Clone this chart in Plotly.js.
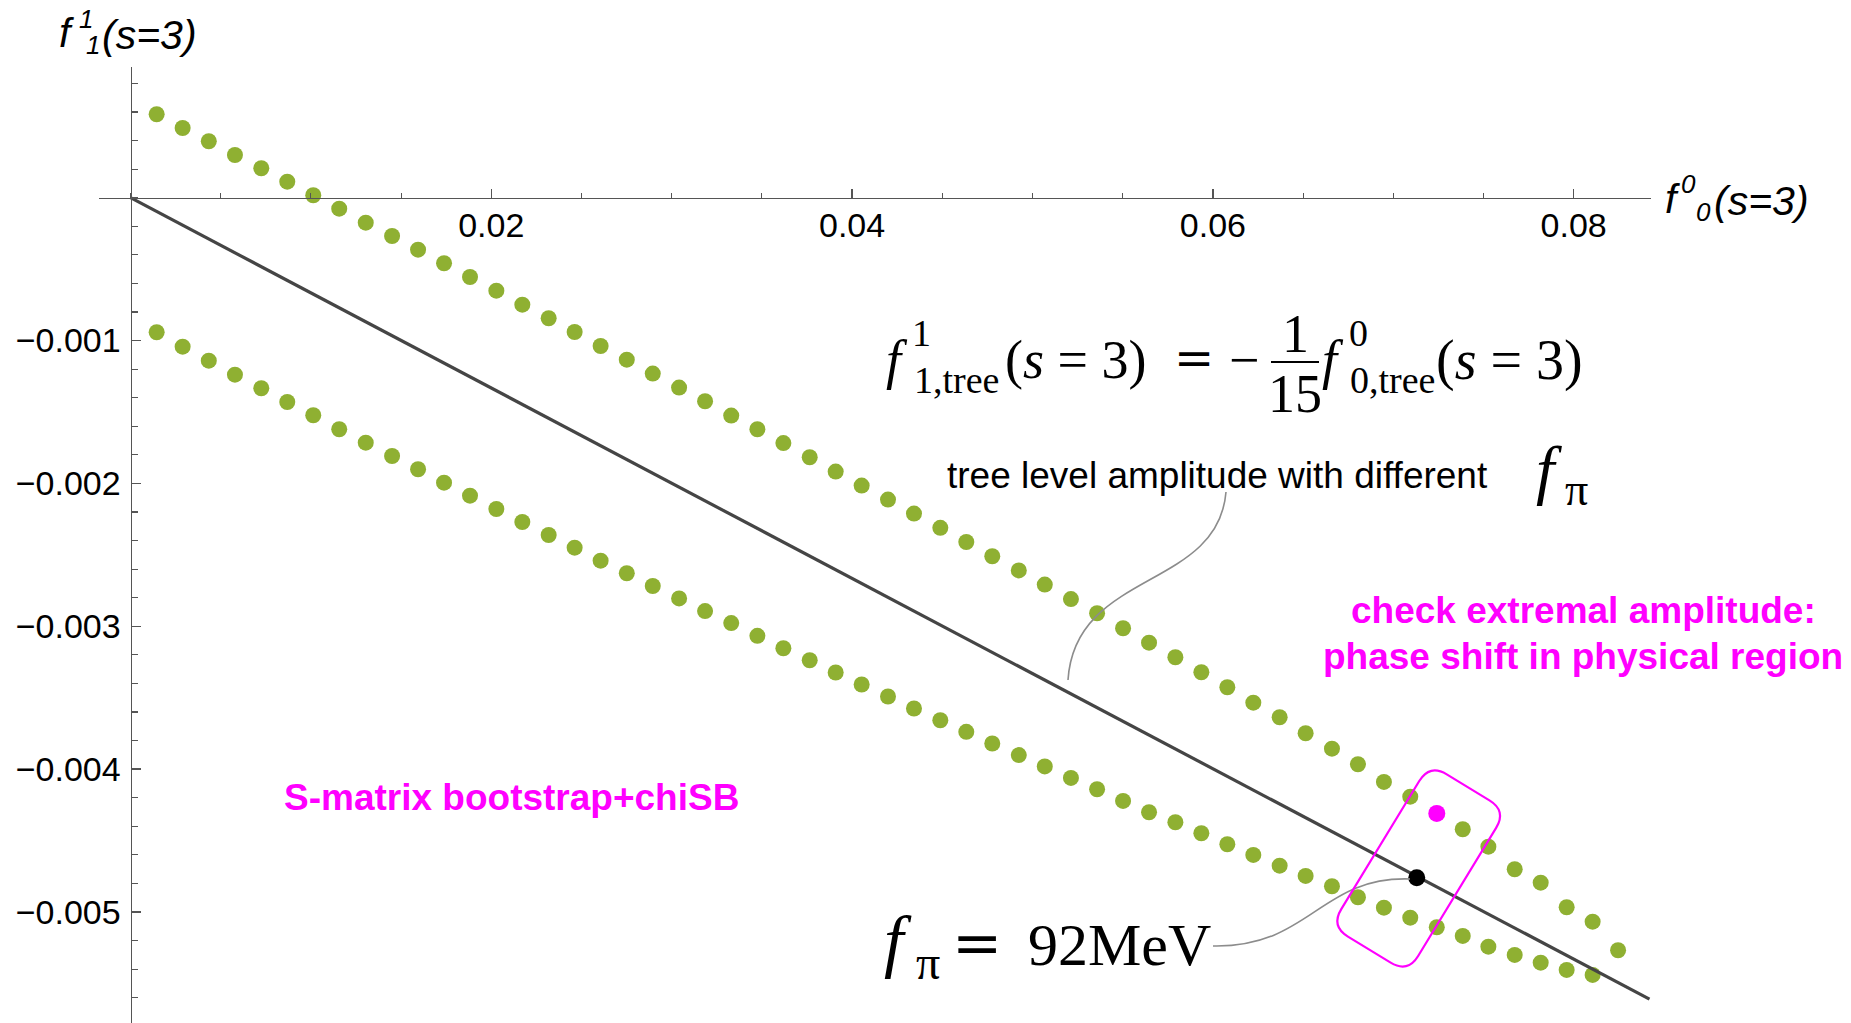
<!DOCTYPE html>
<html>
<head>
<meta charset="utf-8">
<script src="https://cdn.plot.ly/plotly-3.0.1.min.js"></script>
<style>html,body{margin:0;padding:0;background:#fff;}#chart{width:1851px;height:1023px;}</style>
</head>
<body>
<div id="chart"></div>
<script>
// ---------------- data ----------------
const f00Grid = [0.00145,0.00289,0.00434,0.00579,0.00725,0.00869,0.01013,0.01157,0.01304,0.01450,
  0.01594,0.01738,0.01882,0.02028,0.02172,0.02318,0.02462,0.02606,0.02751,0.02895,
  0.03041,0.03185,0.03330,0.03475,0.03619,0.03765,0.03909,0.04053,0.04199,0.04343,
  0.04489,0.04633,0.04777,0.04924,0.05068,0.05213,0.05358,0.05502,0.05646,0.05792,
  0.05936,0.06080,0.06224,0.06370,0.06514,0.06660,0.06804,0.06948,0.07094,0.07241,
  0.07385,0.07527,0.07673,0.07817,0.07961,0.08105,0.08246];

const upperF11 = [0.000584,0.000488,0.000395,0.000299,0.000206,0.000112,0.000017,-0.000077,-0.000175,-0.000268,
  -0.000364,-0.000459,-0.000555,-0.000651,-0.000749,-0.000844,-0.000940,-0.001038,-0.001134,-0.001231,
  -0.001329,-0.001425,-0.001525,-0.001621,-0.001718,-0.001817,-0.001917,-0.002015,-0.002113,-0.002211,
  -0.002311,-0.002410,-0.002510,-0.002609,-0.002708,-0.002810,-0.002909,-0.003014,-0.003115,-0.003217,
  -0.003322,-0.003427,-0.003535,-0.003637,-0.003749,-0.003857,-0.003966,-0.004090,-0.004193,null,
  -0.004421,-0.004543,-0.004701,-0.004795,-0.004967,-0.005068,-0.005268];

const lowerF11 = [-0.000942,-0.001043,-0.001141,-0.001239,-0.001334,-0.001430,-0.001523,-0.001621,-0.001715,-0.001808,
  -0.001901,-0.001995,-0.002086,-0.002179,-0.002270,-0.002361,-0.002450,-0.002541,-0.002629,-0.002718,
  -0.002805,-0.002894,-0.002978,-0.003067,-0.003154,-0.003238,-0.003324,-0.003408,-0.003492,-0.003576,
  -0.003658,-0.003739,-0.003821,-0.003902,-0.003981,-0.004062,-0.004141,-0.004223,-0.004302,-0.004372,
  -0.004449,-0.004526,-0.004601,-0.004676,-0.004748,-0.004820,-0.004897,-0.004970,-0.005040,-0.005107,
  -0.005168,-0.005243,-0.005301,-0.005355,-0.005406,-0.005441];

const treeF00 = [0, 0.0842];
const treeF11 = [0, -0.00561];

const extremalF00 = [0.07241];
const extremalF11 = [-0.00431];

const fpi92F00 = [0.07130];
const fpi92F11 = [-0.00476];

const xTickVals = [0.02, 0.04, 0.06, 0.08];
const xTickText = ['0.02', '0.04', '0.06', '0.08'];
const yTickVals = [-0.005, -0.004, -0.003, -0.002, -0.001];
const yTickText = ['\u22120.005', '\u22120.004', '\u22120.003', '\u22120.002', '\u22120.001'];

// ---------------- layout geometry ----------------
const PAGE_W = 1851, PAGE_H = 1023;
const M = {l: 99, r: 200, t: 67, b: 0};
const PW = PAGE_W - M.l - M.r, PH = PAGE_H - M.t - M.b;
const ORIGIN_PX = [130.5, 197.7];
const PX_PER_X = 18040, PX_PER_Y = 142850;
const xRange = [(M.l - ORIGIN_PX[0]) / PX_PER_X, (M.l + PW - ORIGIN_PX[0]) / PX_PER_X];
const yRange = [(ORIGIN_PX[1] - (M.t + PH)) / PX_PER_Y, (ORIGIN_PX[1] - M.t) / PX_PER_Y];
const px2x = px => (px - ORIGIN_PX[0]) / PX_PER_X;
const px2y = py => (ORIGIN_PX[1] - py) / PX_PER_Y;
const paperX = px => (px - M.l) / PW;
const paperY = py => 1 - (py - M.t) / PH;
const xAxisPos = (0 - yRange[0]) / (yRange[1] - yRange[0]);
const yAxisPos = (0 - xRange[0]) / (xRange[1] - xRange[0]);

const SANS = 'Liberation Sans, Arial, sans-serif';
const SERIF = 'Liberation Serif, Times New Roman, serif';
const WSERIF = 'DejaVu Serif, serif';
const GREEN = '#8fb032', MAGENTA = '#ff00ff', AXIS = '#555555';

function ann(px, py, text, size, family, extra) {
  return Object.assign({xref: 'paper', yref: 'paper', x: paperX(px), y: paperY(py), text: text, showarrow: false,
    xanchor: 'left', yanchor: 'middle', font: {family: family, size: size, color: '#000'}}, extra || {});
}
function P(pt) { return px2x(pt[0]) + ',' + px2y(pt[1]); }
function cubicPath(p0, p1, p2, p3) { return 'M' + P(p0) + ' C' + P(p1) + ' ' + P(p2) + ' ' + P(p3); }
function roundedPoly(c, r) {
  const n = c.length; let d = '';
  for (let i = 0; i < n; i++) {
    const p = c[i], q = c[(i + n - 1) % n], nx = c[(i + 1) % n];
    const dq = Math.hypot(q[0] - p[0], q[1] - p[1]), dn = Math.hypot(nx[0] - p[0], nx[1] - p[1]);
    const a = [p[0] + r * (q[0] - p[0]) / dq, p[1] + r * (q[1] - p[1]) / dq];
    const b = [p[0] + r * (nx[0] - p[0]) / dn, p[1] + r * (nx[1] - p[1]) / dn];
    d += (i === 0 ? 'M' : ' L') + P(a) + ' Q' + P(p) + ' ' + P(b);
  }
  return d + ' Z';
}
// rotated rounded box around the highlighted region
const boxC = [1418.7, 868.5], boxU = [-0.52, 0.854], boxV = [0.854, 0.52], boxA = 45, boxB = 95;
const boxCorners = [[-1, -1], [-1, 1], [1, 1], [1, -1]].map(([su, sv]) =>
  [boxC[0] + su * boxB * boxU[0] + sv * boxA * boxV[0], boxC[1] + su * boxB * boxU[1] + sv * boxA * boxV[1]]);

const traces = [
  {x: f00Grid.slice(0, lowerF11.length), y: lowerF11, mode: 'markers', type: 'scatter',
   marker: {color: GREEN, size: 16}, hoverinfo: 'skip'},
  {x: f00Grid, y: upperF11, mode: 'markers', type: 'scatter',
   marker: {color: GREEN, size: 16}, hoverinfo: 'skip'},
  {x: treeF00, y: treeF11, mode: 'lines', type: 'scatter',
   line: {color: '#454545', width: 3.2}, hoverinfo: 'skip'},
  {x: fpi92F00, y: fpi92F11, mode: 'markers', type: 'scatter',
   marker: {color: '#000', size: 17}, hoverinfo: 'skip'},
  {x: extremalF00, y: extremalF11, mode: 'markers', type: 'scatter',
   marker: {color: MAGENTA, size: 17}, hoverinfo: 'skip'}
];

const idx = {height: 22, valign: 'middle'};
const tickFont = {family: SANS, size: 34, color: '#000'};
const layout = {
  width: PAGE_W, height: PAGE_H, margin: M, showlegend: false,
  paper_bgcolor: '#fff', plot_bgcolor: '#fff',
  xaxis: {range: xRange, anchor: 'free', position: xAxisPos, showgrid: false, zeroline: false,
    showline: true, linecolor: AXIS, linewidth: 1.5, ticks: 'inside', ticklen: 9, tickwidth: 1.3, tickcolor: AXIS,
    tickmode: 'array', tickvals: xTickVals, ticktext: xTickText, tickfont: tickFont, automargin: false,
    ticklabelstandoff: -3,
    minor: {tickmode: 'linear', tick0: 0, dtick: 0.005, ticks: 'inside', ticklen: 5, tickwidth: 1.1, tickcolor: AXIS, showgrid: false}},
  yaxis: {range: yRange, anchor: 'free', position: yAxisPos, showgrid: false, zeroline: false,
    showline: true, linecolor: AXIS, linewidth: 1.5, ticks: 'inside', ticklen: 9, tickwidth: 1.3, tickcolor: AXIS,
    tickmode: 'array', tickvals: yTickVals, ticktext: yTickText, tickfont: tickFont, automargin: false,
    ticklabelstandoff: 3,
    minor: {tickmode: 'linear', tick0: 0, dtick: 0.0002, ticks: 'inside', ticklen: 6, tickwidth: 1.1, tickcolor: AXIS, showgrid: false}},
  annotations: [
    // y axis title  f^1_1(s=3)
    ann(57, 33, '<i>f</i>', 41, SANS),
    ann(77, 19, '<i>1</i>', 26, SANS, idx),
    ann(84, 45, '<i>1</i>', 26, SANS, idx),
    ann(100, 35, '<i>(s=3)</i>', 41, SANS),
    // x axis title  f^0_0(s=3)
    ann(1663, 199, '<i>f</i>', 41, SANS),
    ann(1679, 184, '<i>0</i>', 26, SANS, idx),
    ann(1694, 212, '<i>0</i>', 26, SANS, idx),
    ann(1712, 201, '<i>(s=3)</i>', 41, SANS),
    // formula  f^1_{1,tree}(s=3) = -1/15 f^0_{0,tree}(s=3)
    ann(884, 360, '<i>f</i>', 54, SERIF),
    ann(910, 333, '1', 38, SERIF),
    ann(912, 380, '1,tree', 38, SERIF),
    ann(1003, 360, '(<i>s</i> = 3)', 54, SERIF),
    ann(1194, 358, '=', 48, WSERIF, {xanchor: 'center'}),
    ann(1244, 360, '\u2212', 54, SERIF, {xanchor: 'center'}),
    ann(1295, 334, '1', 54, SERIF, {xanchor: 'center'}),
    ann(1295, 394, '15', 54, SERIF, {xanchor: 'center'}),
    ann(1320, 360, '<i>f</i>', 54, SERIF),
    ann(1347, 333, '0', 38, SERIF),
    ann(1348, 380, '0,tree', 38, SERIF),
    ann(1434, 360, '(<i>s</i> = 3)', 56, SERIF),
    // tree-level label
    ann(945, 475, 'tree level amplitude with different', 37, SANS),
    ann(1534, 470, '<i>f</i>', 66, SERIF),
    ann(1563, 490, '\u03c0', 46, SERIF),
    // f_pi = 92 MeV
    ann(882, 940, '<i>f</i>', 70, SERIF),
    ann(914, 962, '\u03c0', 48, SERIF),
    ann(977, 942, '=', 60, WSERIF, {xanchor: 'center'}),
    ann(1026, 945, '92MeV', 60, SERIF),
    // magenta notes
    ann(1583, 610, '<b>check extremal amplitude:</b>', 37, SANS, {xanchor: 'center', font: {family: SANS, size: 37, color: MAGENTA}}),
    ann(1583, 656, '<b>phase shift in physical region</b>', 37, SANS, {xanchor: 'center', font: {family: SANS, size: 37, color: MAGENTA}}),
    ann(511, 797, '<b>S-matrix bootstrap+chiSB</b>', 37, SANS, {xanchor: 'center', font: {family: SANS, size: 37, color: MAGENTA}})
  ],
  shapes: [
    {type: 'line', xref: 'x', yref: 'y', x0: px2x(1271), x1: px2x(1319), y0: px2y(362), y1: px2y(362),
     line: {color: '#000', width: 2}},
    {type: 'path', xref: 'x', yref: 'y', path: cubicPath([1226, 492], [1218, 590], [1075, 570], [1068, 680]),
     line: {color: '#8c8c8c', width: 1.6}},
    {type: 'path', xref: 'x', yref: 'y', path: cubicPath([1410, 879], [1320, 876], [1310, 948], [1213, 946]),
     line: {color: '#8c8c8c', width: 1.6}},
    {type: 'path', xref: 'x', yref: 'y', path: roundedPoly(boxCorners, 20),
     line: {color: MAGENTA, width: 2.2}}
  ]
};

Plotly.newPlot('chart', traces, layout, {staticPlot: true, displayModeBar: false});
</script>
</body>
</html>
